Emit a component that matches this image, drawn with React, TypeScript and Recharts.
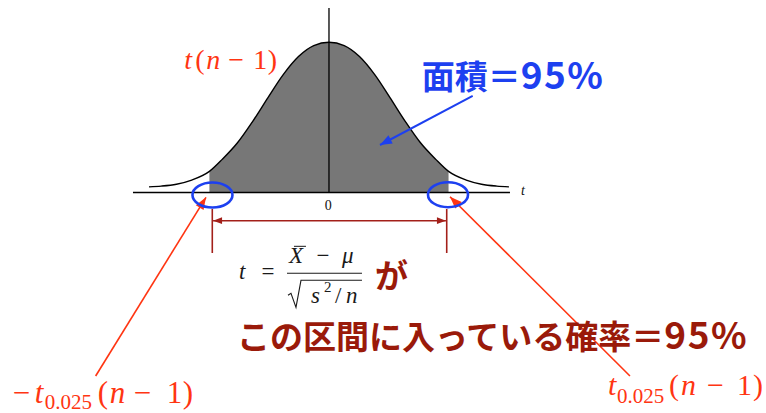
import React from "react";
import { Area, ComposedChart, Line, ReferenceDot, ReferenceLine, XAxis, YAxis } from "recharts";

// t 分布の形（横軸 t、縦軸 密度）: 図から読み取った値
const curveT = [
  -2.95, -2.75, -2.5, -2.25, -1.96, -1.75, -1.5, -1.25, -1, -0.75, -0.5, -0.25, 0,
  0.25, 0.5, 0.75, 1, 1.25, 1.5, 1.75, 1.96, 2.25, 2.5, 2.75, 2.95,
];
const curveDensity = [
  0.015, 0.017, 0.022, 0.033, 0.056, 0.088, 0.132, 0.189, 0.252, 0.313, 0.361, 0.39, 0.399,
  0.39, 0.361, 0.313, 0.252, 0.189, 0.132, 0.088, 0.056, 0.033, 0.022, 0.017, 0.015,
];
const criticalT = 1.96; // t_0.025(n-1)
const axisTicks = ["0"];
const axisName = "t";

const curveData = curveT.map((t, i) => ({ t, density: curveDensity[i] }));
const shadeData = curveData.filter((p) => Math.abs(p.t) <= criticalT);

const X_DOMAIN: [number, number] = [-5.393, 7.164];
const Y_DOMAIN: [number, number] = [-0.5858, 0.5114];

const RED = "#ff3512";
const DARK_RED = "#9a1a0a";
const BRACKET = "#a3201a";
const BLUE = "#1d40f0";
const SERIF = "'Liberation Serif', 'DejaVu Serif', serif";
const JP = "'Noto Sans CJK JP', 'Noto Sans', sans-serif";

type Piece = { s: string; dx: number; dy?: number; size?: number; italic?: boolean };

const topLabel: Piece[] = [
  { s: "t", dx: 0, italic: true },
  { s: "(", dx: 11 },
  { s: "n", dx: 22, italic: true },
  { s: "−", dx: 44 },
  { s: "1", dx: 69 },
  { s: ")", dx: 83.5 },
];
const leftLabel: Piece[] = [
  { s: "−", dx: 0 },
  { s: "t", dx: 22, italic: true },
  { s: "0.025", dx: 32, dy: 6, size: 21 },
  { s: "(", dx: 85 },
  { s: "n", dx: 97, italic: true },
  { s: "−", dx: 121 },
  { s: "1", dx: 154 },
  { s: ")", dx: 170 },
];
const rightLabel: Piece[] = [
  { s: "t", dx: 0, italic: true },
  { s: "0.025", dx: 9, dy: 8, size: 21 },
  { s: "(", dx: 61 },
  { s: "n", dx: 73, italic: true },
  { s: "−", dx: 99 },
  { s: "1", dx: 129 },
  { s: ")", dx: 145 },
];

function mathText(pieces: Piece[], size: number, color: string) {
  return (p: any) => (
    <text fontFamily={SERIF} fontSize={size} fill={color}>
      {pieces.map((q, i) => (
        <tspan
          key={i}
          x={p.cx + q.dx}
          y={p.cy + (q.dy ?? 0)}
          fontSize={q.size ?? size}
          fontStyle={q.italic ? "italic" : "normal"}
        >
          {q.s}
        </tspan>
      ))}
    </text>
  );
}

function jpText(main: string, tail: string, color: string) {
  return (p: any) => (
    <text x={p.cx} y={p.cy} fontFamily={JP} fontWeight={700} fill={color}>
      <tspan fontSize={33}>{main}</tspan>
      <tspan fontSize={37} letterSpacing={1.5}>
        {tail}
      </tspan>
    </text>
  );
}

function arrow(color: string, width: number, head: number, both = false) {
  return (p: any) => {
    const { x1, y1, x2, y2 } = p;
    const a = Math.atan2(y2 - y1, x2 - x1);
    const tri = (x: number, y: number, ang: number) => {
      const bx = x - head * Math.cos(ang);
      const by = y - head * Math.sin(ang);
      const w = head * 0.38;
      return `${x},${y} ${bx + w * Math.sin(ang)},${by - w * Math.cos(ang)} ${bx - w * Math.sin(ang)},${by + w * Math.cos(ang)}`;
    };
    return (
      <g>
        <line x1={x1} y1={y1} x2={x2} y2={y2} stroke={color} strokeWidth={width} />
        <polygon points={tri(x2, y2, a)} fill={color} />
        {both && <polygon points={tri(x1, y1, a + Math.PI)} fill={color} />}
      </g>
    );
  };
}

const ellipse = (p: any) => (
  <ellipse cx={p.cx} cy={p.cy} rx={20} ry={12.5} fill="none" stroke={BLUE} strokeWidth={2.6} />
);

const formula = (p: any) => {
  const { cx, cy } = p;
  const ink = "#1a1a1a";
  return (
    <g fontFamily={SERIF} fontSize={23} fill={ink}>
      <text x={cx - 85} y={cy + 6} fontStyle="italic">t</text>
      <text x={cx - 56} y={cy + 6} textAnchor="middle">=</text>
      <text x={cx - 35} y={cy - 10} fontStyle="italic">X</text>
      <line x1={cx - 30} x2={cx - 18} y1={cy - 27} y2={cy - 27} stroke={ink} strokeWidth={1} />
      <text x={cx - 1} y={cy - 10} textAnchor="middle">−</text>
      <text x={cx + 18} y={cy - 10} fontStyle="italic">μ</text>
      <line x1={cx - 37} x2={cx + 38} y1={cy} y2={cy} stroke={ink} strokeWidth={1.1} />
      <polyline
        points={`${cx - 36},${cy + 22} ${cx - 33},${cy + 20} ${cx - 28},${cy + 34} ${cx - 23},${cy + 7} ${cx + 38},${cy + 7}`}
        fill="none"
        stroke={ink}
        strokeWidth={1.1}
      />
      <text x={cx - 13} y={cy + 30} fontStyle="italic">s</text>
      <text x={cx + 0} y={cy + 19} fontSize={15}>2</text>
      <text x={cx + 11} y={cy + 30}>/</text>
      <text x={cx + 22} y={cy + 30} fontStyle="italic">n</text>
    </g>
  );
};

const smallText = (s: string, italic: boolean, anchor: "start" | "middle") => (p: any) => (
  <text x={p.cx} y={p.cy} fontFamily={SERIF} fontSize={14} fontStyle={italic ? "italic" : "normal"} textAnchor={anchor} fill="#111">
    {s}
  </text>
);

export default function App() {
  return (
    <div style={{ position: "absolute", left: 0, top: 0, width: 766, height: 413, background: "#fff" }}>
      <ComposedChart width={766} height={413} margin={{ top: 0, right: 0, bottom: 0, left: 0 }}>
        <XAxis type="number" dataKey="t" domain={X_DOMAIN} allowDataOverflow hide />
        <YAxis type="number" domain={Y_DOMAIN} allowDataOverflow hide />
        <Area
          data={shadeData}
          dataKey="density"
          type="monotone"
          baseValue={0}
          fill="#777777"
          fillOpacity={1}
          stroke="none"
          activeDot={false}
          isAnimationActive={false}
        />
        <Line
          data={curveData}
          dataKey="density"
          type="monotone"
          stroke="#000"
          strokeWidth={1.4}
          dot={false}
          activeDot={false}
          isAnimationActive={false}
        />
        {/* axes */}
        <ReferenceLine segment={[{ x: -3.213, y: 0 }, { x: 2.967, y: 0 }]} stroke="#000" strokeWidth={1.4} ifOverflow="visible" />
        <ReferenceLine segment={[{ x: 0, y: 0 }, { x: 0, y: 0.4901 }]} stroke="#000" strokeWidth={1.3} ifOverflow="visible" />
        <ReferenceDot x={-0.011} y={-0.0465} r={0} shape={smallText(axisTicks[0], false, "middle")} />
        <ReferenceDot x={3.148} y={-0.0066} r={0} shape={smallText(axisName, true, "start")} />

        {/* interval bracket */}
        <ReferenceLine segment={[{ x: -1.913, y: -0.0438 }, { x: -1.913, y: -0.1607 }]} stroke={BRACKET} strokeWidth={1.6} ifOverflow="visible" />
        <ReferenceLine segment={[{ x: 1.93, y: -0.0438 }, { x: 1.93, y: -0.1607 }]} stroke={BRACKET} strokeWidth={1.6} ifOverflow="visible" />
        <ReferenceLine
          segment={[{ x: -1.9, y: -0.0749 }, { x: 1.917, y: -0.0749 }]}
          ifOverflow="visible"
          shape={arrow(BRACKET, 1.5, 9, true)}
        />

        {/* texts */}
        <ReferenceDot x={-2.372} y={0.3273} r={0} shape={mathText(topLabel, 28, RED)} />
        <ReferenceDot x={1.52} y={0.275} r={0} shape={jpText("面積＝", "95%", BLUE)} />
        <ReferenceDot x={-0.082} y={-0.2147} r={0} shape={formula} />
        <ReferenceDot x={0.754} y={-0.2537} r={0} shape={jpText("が", "", DARK_RED)} />
        <ReferenceDot x={-1.508} y={-0.4158} r={0} shape={jpText("この区間に入っている確率＝", "95%", DARK_RED)} />
        <ReferenceDot x={-5.185} y={-0.5593} r={0} shape={mathText(leftLabel, 31, RED)} />
        <ReferenceDot x={4.574} y={-0.538} r={0} shape={mathText(rightLabel, 30, RED)} />

        {/* circles and arrows */}
        <ReferenceDot x={-1.91} y={-0.0066} r={0} shape={ellipse} />
        <ReferenceDot x={1.951} y={-0.0058} r={0} shape={ellipse} />
        <ReferenceLine segment={[{ x: 2.356, y: 0.2564 }, { x: 0.836, y: 0.1262 }]} ifOverflow="visible" shape={arrow(BLUE, 2, 12)} />
        <ReferenceLine segment={[{ x: -3.825, y: -0.4875 }, { x: -2.016, y: -0.0128 }]} ifOverflow="visible" shape={arrow(RED, 1.6, 12)} />
        <ReferenceLine segment={[{ x: 4.934, y: -0.4875 }, { x: 1.984, y: -0.0112 }]} ifOverflow="visible" shape={arrow(RED, 1.6, 12)} />
      </ComposedChart>
    </div>
  );
}
